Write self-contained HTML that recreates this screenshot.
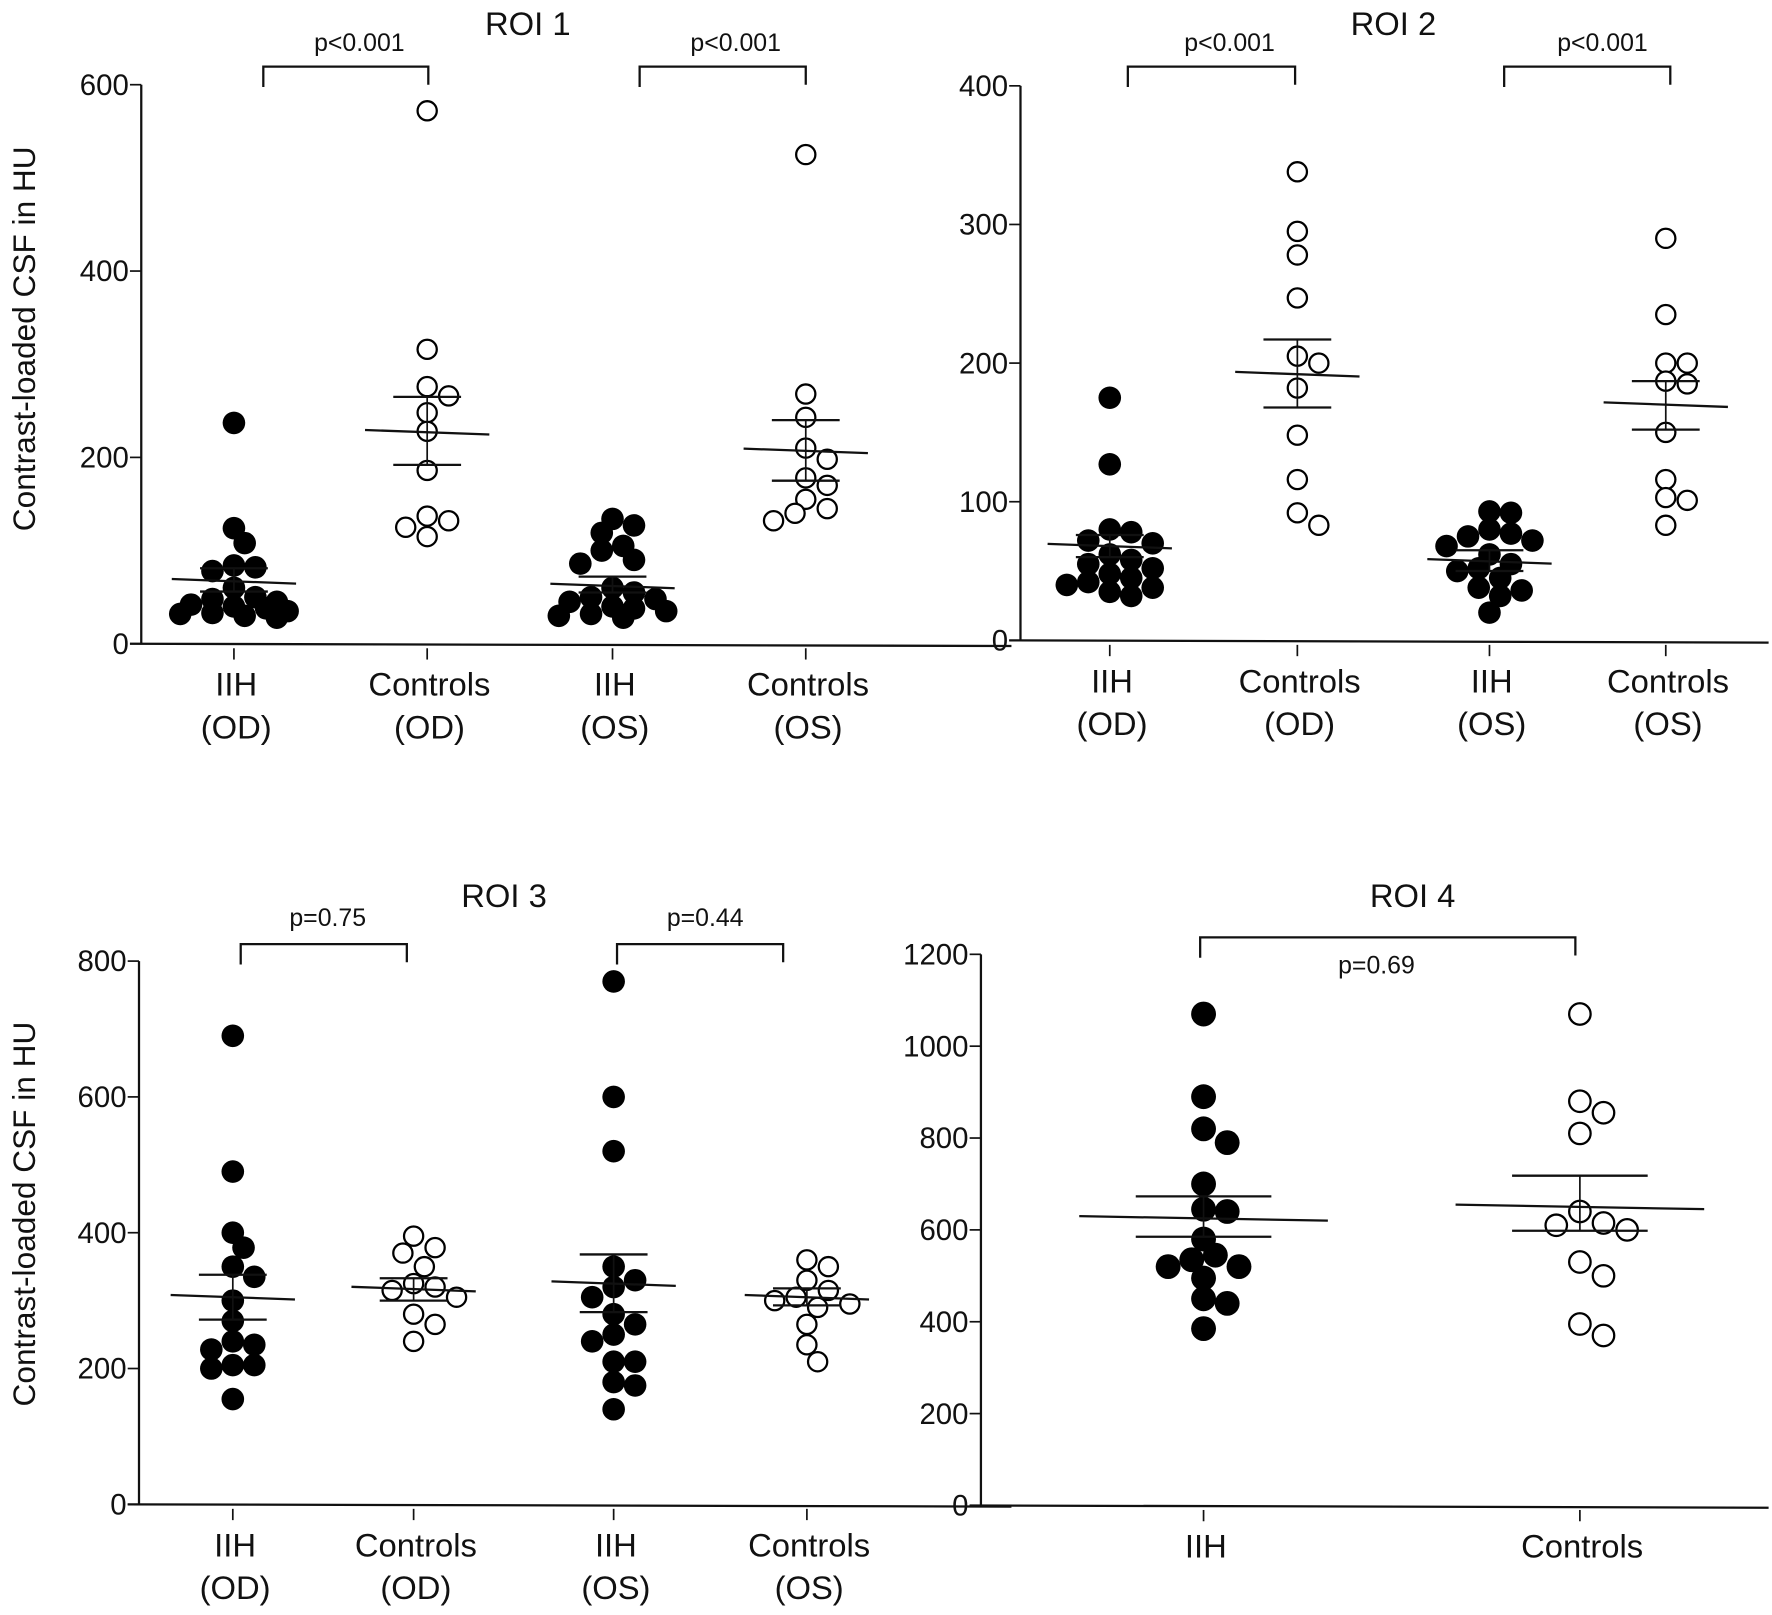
<!DOCTYPE html>
<html><head><meta charset="utf-8"><style>
html,body{margin:0;padding:0;background:#fff;}
svg{display:block;}
text{font-family:"Liberation Sans",sans-serif;fill:#111;}
</style></head><body>
<svg id="fig" width="1772" height="1615" viewBox="0 0 1568 1430" preserveAspectRatio="none" xmlns="http://www.w3.org/2000/svg"></svg>
<script>
// ROI 1 data
const roi1Categories = ["IIH|(OD)", "Controls|(OD)", "IIH|(OS)", "Controls|(OS)"];
const roi1IIHOD = [237,124,108,84,82,78,60,50,48,45,42,40,38,35,33,32,30,28];
const roi1CtrlOD = [572,316,276,266,248,228,186,137,132,125,115];
const roi1IIHOS = [134,127,119,105,100,90,86,60,55,50,48,45,40,38,35,32,30,28];
const roi1CtrlOS = [525,268,243,210,198,178,170,155,145,140,132];
const roi1Means = [67,227,62,207];
const roi1SemLo = [56,192,55,175];
const roi1SemHi = [81,265,72,240];
const roi1Ticks = [0,200,400,600];
const roi1P = ["p<0.001","p<0.001"];
// ROI 2 data
const roi2Categories = ["IIH|(OD)", "Controls|(OD)", "IIH|(OS)", "Controls|(OS)"];
const roi2IIHOD = [175,127,80,78,72,70,62,58,55,52,48,45,42,40,38,35,32];
const roi2CtrlOD = [338,295,278,247,205,200,182,148,116,92,83];
const roi2IIHOS = [93,92,80,77,75,72,68,62,55,52,50,45,38,36,32,20];
const roi2CtrlOS = [290,235,200,200,187,185,150,116,103,101,83];
const roi2Means = [68,192,57,170];
const roi2SemLo = [60,168,50,152];
const roi2SemHi = [76,217,65,187];
const roi2Ticks = [0,100,200,300,400];
const roi2P = ["p<0.001","p<0.001"];
// ROI 3 data
const roi3Categories = ["IIH|(OD)", "Controls|(OD)", "IIH|(OS)", "Controls|(OS)"];
const roi3IIHOD = [690,490,400,378,350,335,300,270,240,235,228,205,205,200,155];
const roi3CtrlOD = [395,378,370,350,325,320,315,305,280,265,240];
const roi3IIHOS = [770,600,520,350,330,320,305,280,265,250,240,210,210,180,175,140];
const roi3CtrlOS = [360,350,330,315,305,300,295,290,265,235,210];
const roi3Means = [305,317,325,305];
const roi3SemLo = [272,300,283,293];
const roi3SemHi = [338,333,368,318];
const roi3Ticks = [0,200,400,600,800];
const roi3P = ["p=0.75","p=0.44"];
// ROI 4 data
const roi4Categories = ["IIH", "Controls"];
const roi4IIH = [1070,890,820,790,700,645,640,580,545,535,520,520,495,450,440,385];
const roi4Ctrl = [1070,880,855,810,640,615,610,600,530,500,395,370];
const roi4Means = [625,650];
const roi4SemLo = [585,598];
const roi4SemHi = [673,718];
const roi4Ticks = [0,200,400,600,800,1000,1200];
const roi4P = ["p=0.69"];

const NS = "http://www.w3.org/2000/svg";
const svg = document.getElementById('fig');
function mk(tag, attrs, parent, txt){
  const e = document.createElementNS(NS, tag);
  for (const k in attrs) e.setAttribute(k, attrs[k]);
  if (txt !== undefined) e.textContent = txt;
  (parent||svg).appendChild(e);
  return e;
}
function swarm(vals, yf, r){
  const placed = [];
  const sorted = vals.map((v,i)=>({v,i})).sort((a,b)=>b.v-a.v);
  const out = new Array(vals.length);
  for (const p of sorted){
    const y = yf(p.v);
    const cands=[0];
    for (let k=1;k<=5;k++){cands.push(k*r*0.95);cands.push(-k*r*0.95);}
    let chosen=null, best=-1, bestDx=0;
    for (const dx of cands){
      let md=1e9;
      for (const q of placed){ md=Math.min(md,Math.hypot(q.dx-dx,q.y-y)); }
      if(md>=1.55*r){chosen=dx;break;}
      if(md>best){best=md;bestDx=dx;}
    }
    if(chosen===null) chosen=bestDx;
    placed.push({dx:chosen,y});
    out[p.i]={dx:chosen,y};
  }
  return out;
}
function panel(cfg){
  const g = mk('g',{});
  
  
  const yf = v => cfg.y0 - (v/cfg.ymax)*(cfg.y0-cfg.ytop);
  const t = mk('text',{x:cfg.titleX,y:cfg.titleY,'font-size':29,'text-anchor':'middle'},g,cfg.title);
  
  
  const ya = mk('line',{x1:cfg.ax,y1:cfg.ytop,x2:cfg.ax,y2:cfg.y0,stroke:'#111','stroke-width':2},g);
  
  
  const xa = mk('line',{x1:cfg.ax-10,y1:cfg.y0,x2:cfg.xend,y2:cfg.y0+2,stroke:'#111','stroke-width':2},g);
  
  
  cfg.ticks.forEach(v=>{
    const y=yf(v);
    mk('line',{x1:cfg.ax-10,y1:y,x2:cfg.ax,y2:y,stroke:'#111','stroke-width':1.5},g);
    const tl = mk('text',{x:cfg.ax-11,y:y+9,'font-size':26,'text-anchor':'end'},g,String(v));
    
    
  });
  cfg.cats.forEach((c,i)=>{
    const x=cfg.cx[i];
    mk('line',{x1:x,y1:cfg.y0+4,x2:x,y2:cfg.y0+14,stroke:'#111','stroke-width':1.5},g);
    const lines=c.split('|');
    lines.forEach((ln,j)=>{
      const tl = mk('text',{x:x+2,y:cfg.y0+46+j*38,'font-size':29,'text-anchor':'middle'},g,ln);
      
      
    });
  });
  cfg.series.forEach((vals,i)=>{
    const open = cfg.open[i];
    const pos = swarm(vals,yf,cfg.r);
    pos.forEach(p=>{
      const c = mk('circle',{cx:cfg.cx[i]+p.dx,cy:p.y,r:open?cfg.r-1.5:cfg.r,fill:open?'#fff':'#000',stroke:'#000','stroke-width':open?2:0},g);
      
      
    });
  });
  cfg.means.forEach((m,i)=>{
    const x=cfg.cx[i];
    const ml = mk('line',{x1:x-cfg.mw,y1:yf(m)-2,x2:x+cfg.mw,y2:yf(m)+2,stroke:'#111','stroke-width':2},g);
    
    
    [cfg.lo[i],cfg.hi[i]].forEach(v=>{
      const sl = mk('line',{x1:x-cfg.sw,y1:yf(v),x2:x+cfg.sw,y2:yf(v),stroke:'#111','stroke-width':2},g);
      
      
    });
    mk('line',{x1:x,y1:yf(cfg.hi[i]),x2:x,y2:yf(cfg.lo[i]),stroke:'#111','stroke-width':1.5},g);
  });
  cfg.brackets.forEach((b,i)=>{
    const br = mk('path',{d:`M${b[0]},${b[2]+18} V${b[2]} H${b[1]} V${b[2]+16}`,fill:'none',stroke:'#111','stroke-width':2},g);
    
    
    const pl = mk('text',{x:b[3],y:b[4],'font-size':22,'text-anchor':'middle'},g,cfg.p[i]);
    
    
  });
  if (cfg.ylabel){
    const yl = mk('text',{x:0,y:0,'font-size':28,'text-anchor':'middle',transform:`translate(31,${cfg.ylabelY}) rotate(-90)`},g,'Contrast-loaded  CSF in HU');
    
    
  }
}
panel({name:'roi1-panel',title:'ROI 1',titleX:467,titleY:31,ax:125,y0:570,ytop:75,ymax:600,xend:895,ticks:roi1Ticks,
  cats:roi1Categories,cx:[207,378,542,713],series:[roi1IIHOD,roi1CtrlOD,roi1IIHOS,roi1CtrlOS],open:[0,1,0,1],r:10,
  means:roi1Means,lo:roi1SemLo,hi:roi1SemHi,mw:55,sw:30,p:roi1P,
  brackets:[[233,379,59,318,45],[566,713,59,651,45]],ylabel:true,ylabelY:300});
panel({name:'roi2-panel',title:'ROI 2',titleX:1233,titleY:31,ax:903,y0:567,ytop:76,ymax:400,xend:1565,ticks:roi2Ticks,
  cats:roi2Categories,cx:[982,1148,1318,1474],series:[roi2IIHOD,roi2CtrlOD,roi2IIHOS,roi2CtrlOS],open:[0,1,0,1],r:10,
  means:roi2Means,lo:roi2SemLo,hi:roi2SemHi,mw:55,sw:30,p:roi2P,
  brackets:[[998,1146,59,1088,45],[1331,1478,59,1418,45]],ylabel:false});
panel({name:'roi3-panel',title:'ROI 3',titleX:446,titleY:803,ax:123,y0:1332,ytop:851,ymax:800,xend:895,ticks:roi3Ticks,
  cats:roi3Categories,cx:[206,366,543,714],series:[roi3IIHOD,roi3CtrlOD,roi3IIHOS,roi3CtrlOS],open:[0,1,0,1],r:10,
  means:roi3Means,lo:roi3SemLo,hi:roi3SemHi,mw:55,sw:30,p:roi3P,
  brackets:[[213,360,836,290,820],[546,693,836,624,820]],ylabel:true,ylabelY:1075});
panel({name:'roi4-panel',title:'ROI 4',titleX:1250,titleY:803,ax:868,y0:1333,ytop:845,ymax:1200,xend:1565,ticks:roi4Ticks,
  cats:roi4Categories,cx:[1065,1398],series:[roi4IIH,roi4Ctrl],open:[0,1],r:11,
  means:roi4Means,lo:roi4SemLo,hi:roi4SemHi,mw:110,sw:60,p:roi4P,
  brackets:[[1062,1394,830,1218,862]],ylabel:false});
</script>
</body></html>
